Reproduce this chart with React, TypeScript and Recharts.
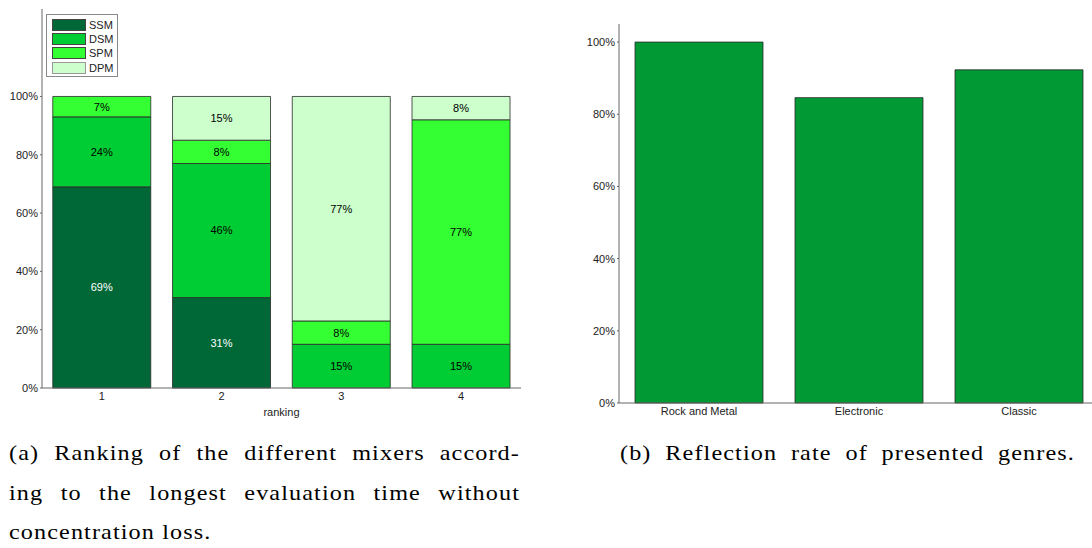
import React from 'react';
import { BarChart, Bar, XAxis, YAxis, LabelList } from 'recharts';

// left panel: ranking of mixers (percent per rank)
const rankings = ['1', '2', '3', '4'];
const ssmValues = [69, 31, 0, 0];
const dsmValues = [24, 46, 15, 15];
const spmValues = [7, 8, 8, 77];
const dpmValues = [0, 15, 77, 8];
const mixerNames = ['SSM', 'DSM', 'SPM', 'DPM'];
const mixerColors = ['#006837', '#00cc33', '#33ff33', '#ccffcc'];
const mixerLabelColors = ['#ffffff', '#000000', '#000000', '#000000'];
const rankTicks = [0, 20, 40, 60, 80, 100];

// right panel: reflection rate per genre
const genres = ['Rock and Metal', 'Electronic', 'Classic'];
const reflectionRates = [100, 84.6, 92.3];
const genreTicks = [0, 20, 40, 60, 80, 100];

const rankingData = rankings.map((r, i) => ({
  rank: r,
  SSM: ssmValues[i],
  DSM: dsmValues[i],
  SPM: spmValues[i],
  DPM: dpmValues[i],
}));

const genreData = genres.map((g, i) => ({ genre: g, rate: reflectionRates[i] }));

const FONT = '"Liberation Sans", Arial, sans-serif';
const AXIS = '#666666';
const TEXT = '#222222';
const EDGE = '#2a2a2a';
const CAP_SCALE = 1.1;

const pct = (v: number) => `${v}%`;
const blank = () => '';
const segLabel = (v: any) => (Number(v) > 0 ? `${v}%` : '');

const captionStyle: React.CSSProperties = {
  fontFamily: '"Liberation Serif", "DejaVu Serif", serif',
  fontSize: 22,
  letterSpacing: '1px',
  lineHeight: '39.5px',
  color: '#000',
  whiteSpace: 'nowrap',
  transform: `scaleX(${CAP_SCALE})`,
  transformOrigin: 'left top',
};

const justLine: React.CSSProperties = {
  textAlign: 'justify',
  textAlignLast: 'justify',
  whiteSpace: 'normal',
};

const MixerLegend = () => (
  <div
    style={{
      position: 'absolute',
      left: 46,
      top: 14,
      width: 72,
      height: 63,
      border: '1px solid #888',
      background: '#fff',
      boxSizing: 'border-box',
      fontFamily: FONT,
      fontSize: 11,
      color: TEXT,
    }}
  >
    {mixerNames.map((name, i) => (
      <div
        key={name}
        style={{ position: 'absolute', left: 5, top: 3.5 + i * 14.4, height: 12, display: 'flex', alignItems: 'center' }}
      >
        <div style={{ width: 32, height: 10, background: mixerColors[i], border: `1px solid ${i === 3 ? '#999' : '#444'}` }} />
        <span style={{ marginLeft: 3 }}>{name}</span>
      </div>
    ))}
  </div>
);

export default function App() {
  return (
    <div style={{ position: 'fixed', left: 0, top: 0, width: 1092, height: 548, overflow: 'hidden', background: '#fff' }}>
      <div style={{ position: 'absolute', left: 0, top: 0 }}>
        <BarChart
          width={540}
          height={430}
          data={rankingData}
          margin={{ top: 9, right: 19, bottom: 0, left: 0 }}
          barCategoryGap="9%"
        >
          <XAxis
            dataKey="rank"
            height={42}
            axisLine={{ stroke: AXIS }}
            tickLine={false}
            tickSize={0}
            tickMargin={4}
            tick={{ fill: TEXT, fontSize: 11, fontFamily: FONT }}
            label={{ value: 'ranking', position: 'insideBottom', offset: 14, fill: TEXT, fontSize: 11, fontFamily: FONT }}
          />
          <XAxis
            xAxisId="top"
            dataKey="rank"
            orientation="top"
            mirror
            height={0}
            axisLine={{ stroke: AXIS }}
            tickLine={{ stroke: AXIS }}
            tickSize={5}
            tickFormatter={blank}
          />
          <YAxis
            width={42}
            domain={[0, 130]}
            ticks={rankTicks}
            tickFormatter={pct}
            axisLine={{ stroke: AXIS }}
            tickLine={{ stroke: AXIS }}
            tickSize={2}
            tickMargin={2}
            tick={{ fill: TEXT, fontSize: 11, fontFamily: FONT }}
          />
          <YAxis
            yAxisId="r"
            orientation="right"
            mirror
            width={0}
            type="number"
            domain={[0, 130]}
            ticks={rankTicks}
            allowDataOverflow
            axisLine={{ stroke: AXIS }}
            tickLine={{ stroke: AXIS }}
            tickSize={5}
            tickFormatter={blank}
          />
          {mixerNames.map((name, i) => (
            <Bar
              key={name}
              dataKey={name}
              stackId="mix"
              fill={mixerColors[i]}
              stroke={EDGE}
              strokeWidth={0.8}
              isAnimationActive={false}
            >
              <LabelList
                dataKey={name}
                position="center"
                formatter={segLabel}
                fill={mixerLabelColors[i]}
                fontSize={11}
                fontFamily={FONT}
              />
            </Bar>
          ))}
        </BarChart>
        <MixerLegend />
      </div>

      <div style={{ position: 'absolute', left: 560, top: 0 }}>
        <BarChart
          width={560}
          height={430}
          data={genreData}
          margin={{ top: 24, right: 21, bottom: 0, left: 0 }}
          barCategoryGap="10%"
        >
          <XAxis
            dataKey="genre"
            height={27}
            axisLine={{ stroke: AXIS }}
            tickLine={false}
            tickSize={0}
            tickMargin={4}
            tick={{ fill: TEXT, fontSize: 11, fontFamily: FONT }}
          />
          <XAxis
            xAxisId="top"
            dataKey="genre"
            orientation="top"
            mirror
            height={0}
            axisLine={{ stroke: AXIS }}
            tickLine={{ stroke: AXIS }}
            tickSize={5}
            tickFormatter={blank}
          />
          <YAxis
            width={59}
            domain={[0, 105]}
            ticks={genreTicks}
            tickFormatter={pct}
            axisLine={{ stroke: AXIS }}
            tickLine={{ stroke: AXIS }}
            tickSize={2}
            tickMargin={2}
            tick={{ fill: TEXT, fontSize: 11, fontFamily: FONT }}
          />
          <Bar dataKey="rate" fill="#009933" stroke={EDGE} strokeWidth={0.8} isAnimationActive={false} />
        </BarChart>
      </div>

      <div style={{ ...captionStyle, position: 'absolute', left: 9, top: 433, width: 511 / CAP_SCALE }}>
        <div style={justLine}>(a) Ranking of the different mixers accord-</div>
        <div style={justLine}>ing to the longest evaluation time without</div>
        <div>concentration loss.</div>
      </div>
      <div style={{ ...captionStyle, position: 'absolute', left: 620, top: 433, width: 455 / CAP_SCALE }}>
        <div style={justLine}>(b) Reflection rate of presented genres.</div>
      </div>
    </div>
  );
}
